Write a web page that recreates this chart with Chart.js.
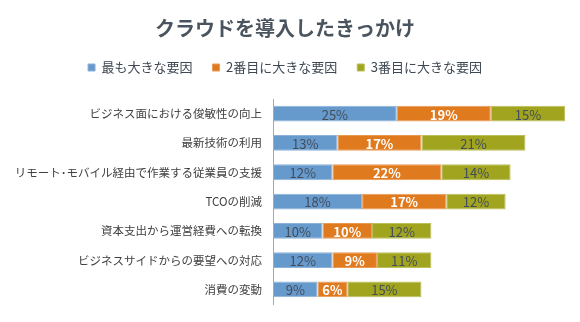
<!DOCTYPE html>
<html>
<head>
<meta charset="utf-8">
<script src="https://cdn.jsdelivr.net/npm/chart.js@4/dist/chart.umd.min.js"></script>
<style>
  html, body { margin: 0; padding: 0; background: #fff; }
  #wrap { width: 580px; height: 322px; }
</style>
</head>
<body>
<div id="wrap"><canvas id="chart" width="580" height="322"></canvas></div>
<script>
// クラウド導入のきっかけ（横積み上げ棒）
const categories = [
    'ビジネス面における俊敏性の向上',
    '最新技術の利用',
    'リモート･モバイル経由で作業する従業員の支援',
    'TCOの削減',
    '資本支出から運営経費への転換',
    'ビジネスサイドからの要望への対応',
    '消費の変動'
];
const seriesNames = ['最も大きな要因', '2番目に大きな要因', '3番目に大きな要因'];
const firstReason = [25, 13, 12, 18, 10, 12, 9];
const secondReason = [19, 17, 22, 17, 10, 9, 6];
const thirdReason = [15, 21, 14, 12, 12, 11, 15];

const FONT = '"Noto Sans CJK JP", "Noto Sans", sans-serif';
const colors = ['#6699cc', '#e07a1f', '#a0a41e'];
const edgeColors = ['#8cb2d9', '#e99a55', '#bcbf5a'];

// 値ラベルを棒の中央に描く
const valueLabels = {
    id: 'valueLabels',
    afterDatasetsDraw(chart) {
        const ctx = chart.ctx;
        ctx.save();
        ctx.textAlign = 'center';
        ctx.textBaseline = 'middle';
        chart.data.datasets.forEach((ds, i) => {
            const meta = chart.getDatasetMeta(i);
            const white = i === 1;
            ctx.font = (white ? 'bold ' : '') + '13px ' + FONT;
            ctx.fillStyle = white ? '#ffffff' : '#434d5a';
            meta.data.forEach((bar, j) => {
                const x = (bar.x + bar.base) / 2;
                ctx.fillText(ds.data[j] + '%', x, bar.y + 1);
            });
        });
        ctx.restore();
    }
};

// 凡例の下に余白を足す
const legendGap = {
    id: 'legendGap',
    beforeInit(chart) {
        const fit = chart.legend.fit;
        chart.legend.fit = function () {
            fit.call(this);
            this.height += 15;
        };
    }
};

new Chart(document.getElementById('chart'), {
    type: 'bar',
    data: {
        labels: categories,
        datasets: [firstReason, secondReason, thirdReason].map((d, i) => ({
            label: seriesNames[i],
            data: d,
            backgroundColor: colors[i],
            borderColor: edgeColors[i],
            borderWidth: 1,
            borderSkipped: false,
            barPercentage: 0.54,
            categoryPercentage: 1
        }))
    },
    options: {
        indexAxis: 'y',
        responsive: false,
        animation: false,
        layout: { padding: { left: 0, right: 10, top: 0, bottom: 15 } },
        plugins: {
            title: {
                display: true,
                text: 'クラウドを導入したきっかけ',
                color: '#4a545e',
                font: { family: FONT, size: 20, weight: 'bold' },
                padding: { top: 16, bottom: 1 }
            },
            legend: {
                position: 'top',
                labels: {
                    boxWidth: 7,
                    boxHeight: 7,
                    padding: 20,
                    color: '#3f4852',
                    font: { family: FONT, size: 13 }
                }
            },
            tooltip: { enabled: false }
        },
        scales: {
            x: {
                stacked: true,
                min: 0,
                max: 60,
                display: false
            },
            y: {
                stacked: true,
                grid: { display: false, drawTicks: false },
                border: { display: true, color: '#a6a6a6', width: 1 },
                ticks: {
                    color: '#404040',
                    padding: 11,
                    font: { family: FONT, size: 11.5 }
                },
                afterFit(scale) { scale.width = 273; }
            }
        }
    },
    plugins: [valueLabels, legendGap]
});
</script>
</body>
</html>
